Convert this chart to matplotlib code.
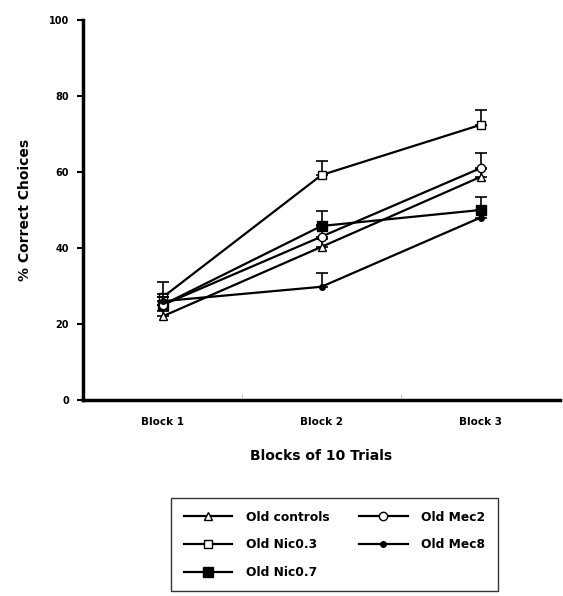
import numpy as np
import matplotlib
matplotlib.use("Agg")
import matplotlib.pyplot as plt

# data
blocks = ["Block 1", "Block 2", "Block 3"]
groups = ["Old controls", "Old Nic0.3", "Old Nic0.7", "Old Mec2", "Old Mec8"]
old_controls = [22, 40.3, 58.7]
old_nic03 = [27, 59.2, 72.4]
old_nic07 = [25, 45.8, 50]
old_mec2 = [25, 43, 61]
old_mec8 = [26, 29.8, 48]
err_nic03 = [4, 3.8, 3.9]
err_nic07 = [2, 3.9, 3.5]
err_mec2 = [2, 3, 4]
err_mec8 = [2, 3.7, 2]
err_controls = [1.5, 2, 2]
yticks = [0, 20, 40, 60, 80, 100]

plt.rcParams["font.family"] = "DejaVu Sans"
plt.rcParams["font.weight"] = "bold"

fig = plt.figure(figsize=(5.63, 5.96), dpi=100)
ax = fig.add_axes([83 / 563, 1 - 400 / 596, (560 - 83) / 563, 380 / 596])

x = np.arange(1, len(blocks) + 1)
series = [
    (old_controls, err_controls, dict(marker="^", mfc="white", ms=6)),
    (old_nic03, err_nic03, dict(marker="s", mfc="white", ms=6)),
    (old_nic07, err_nic07, dict(marker="s", mfc="black", ms=7)),
    (old_mec2, err_mec2, dict(marker="o", mfc="white", ms=6)),
    (old_mec8, err_mec8, dict(marker="o", mfc="black", ms=4)),
]
handles = []
for (vals, err, style), name in zip(series, groups):
    ax.errorbar(x, vals, yerr=[np.zeros(len(err)), err], fmt="none",
                ecolor="black", elinewidth=1.2, capsize=4, capthick=1.2)
    h, = ax.plot(x, vals, color="black", lw=1.6, mec="black", label=name, **style)
    handles.append(h)

ax.set_xlim(0.5, 3.5)
ax.set_ylim(0, 100)
ax.set_xticks(x)
ax.set_xticklabels(blocks, fontsize=7.5, fontweight="bold")
ax.set_xticks([1.5, 2.5], minor=True)
ax.tick_params(axis="x", which="major", length=0, pad=12)
ax.tick_params(axis="x", which="minor", direction="in", length=4, color="#bbbbbb")
ax.set_yticks(yticks)
ax.set_yticklabels([str(v) for v in yticks], fontsize=7, fontweight="bold")
ax.tick_params(axis="y", length=4, width=1.5, pad=6)

for s in ["top", "right"]:
    ax.spines[s].set_visible(False)
ax.spines["left"].set_linewidth(2.5)
ax.spines["bottom"].set_linewidth(2.5)

ax.set_ylabel("% Correct Choices", fontsize=10, fontweight="bold", labelpad=12)
ax.set_xlabel("Blocks of 10 Trials", fontsize=10, fontweight="bold", labelpad=16)

leg = fig.legend(handles=handles, loc="center", bbox_to_anchor=(0.594, 0.086),
                 ncol=2, frameon=True, fancybox=False,
                 handlelength=4.0, columnspacing=2.4, labelspacing=1.2,
                 borderpad=1.0, handletextpad=1.1,
                 prop={"weight": "bold", "size": 8.8})
leg.get_frame().set_edgecolor("black")
leg.get_frame().set_linewidth(1)

fig.savefig("out.png", dpi=100)
